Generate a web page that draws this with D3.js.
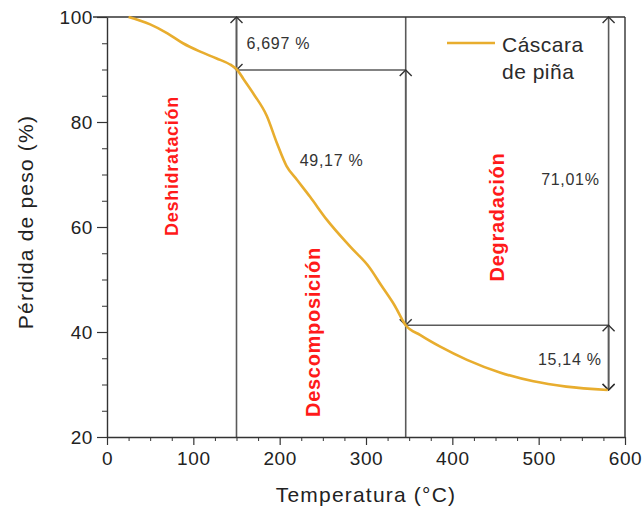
<!DOCTYPE html>
<html>
<head>
<meta charset="utf-8">
<script src="https://cdn.jsdelivr.net/npm/d3@7"></script>
<style>
  body { margin: 0; background: #fff; }
  text { font-family: "Liberation Sans", Arial, sans-serif; }
</style>
</head>
<body>
<div id="chart"></div>
<script>
// TGA curve
var temps   = [25, 50, 70, 88, 108, 127, 143, 151, 158, 170, 185, 197, 208, 220, 235, 255, 282, 304, 318, 333, 346, 363, 386, 417, 455, 494, 532, 580];
var weights = [100, 98.6, 96.9, 95.0, 93.4, 92.1, 90.9, 89.9, 88.2, 85.3, 81.2, 75.9, 71.6, 69.0, 65.8, 61.3, 56.2, 52.3, 48.8, 45.1, 41.3, 39.4, 37.2, 34.7, 32.3, 30.6, 29.6, 28.95];

var xTicks = [0, 100, 200, 300, 400, 500, 600];
var yTicks = [20, 40, 60, 80, 100];

// stage boundaries and arrows
var stageTemps = [150, 346];
var arrows = [
    {x: 150, y1: 100, y2: 89.9},
    {x: 346, y1: 89.9, y2: 41.3},
    {x: 581, y1: 100, y2: 28.95},
    {x: 581, y1: 41.3, y2: 28.95}
];
var hLines = [
    {y: 89.9, x1: 150, x2: 346},
    {y: 41.3, x1: 346, x2: 581}
];
var lossLabels = ["6,697 %", "49,17 %", "71,01%", "15,14 %"];
var stageLabels = ["Deshidratación", "Descomposición", "Degradación"];

var width = 644, height = 514;
var margin = {top: 17, right: 19, bottom: 77, left: 107};

var svg = d3.select('#chart')
    .append('svg')
    .attr('width', width)
    .attr('height', height);

var x = d3.scaleLinear().domain([0, 600]).range([margin.left, width - margin.right]);
var y = d3.scaleLinear().domain([20, 100]).range([height - margin.bottom, margin.top]);

var curveColor = '#e8ad2e';
var annColor = '#5a5a5a';

// marker for open arrowheads
svg.append('defs').append('marker')
    .attr('id', 'arr')
    .attr('markerUnits', 'userSpaceOnUse')
    .attr('viewBox', '-8 -8 10 16')
    .attr('markerWidth', 10)
    .attr('markerHeight', 16)
    .attr('refX', 0)
    .attr('refY', 0)
    .attr('orient', 'auto-start-reverse')
    .append('path')
    .attr('d', 'M-6,-6L0,0L-6,6')
    .attr('fill', 'none')
    .attr('stroke', '#333')
    .attr('stroke-width', 1.4);

// full height stage lines
svg.append('g').selectAll('line')
    .data(stageTemps)
    .enter()
    .append('line')
    .attr('x1', d => x(d)).attr('x2', d => x(d))
    .attr('y1', y(20)).attr('y2', y(100))
    .attr('stroke', annColor)
    .attr('stroke-width', 1.6);

svg.append('g').selectAll('line')
    .data(hLines)
    .enter()
    .append('line')
    .attr('x1', d => x(d.x1)).attr('x2', d => x(d.x2))
    .attr('y1', d => y(d.y)).attr('y2', d => y(d.y))
    .attr('stroke', annColor)
    .attr('stroke-width', 1.6);

svg.append('g').selectAll('line')
    .data(arrows)
    .enter()
    .append('line')
    .attr('x1', d => x(d.x)).attr('x2', d => x(d.x))
    .attr('y1', d => y(d.y1)).attr('y2', d => y(d.y2))
    .attr('stroke', annColor)
    .attr('stroke-width', 1.6)
    .attr('marker-start', 'url(#arr)')
    .attr('marker-end', 'url(#arr)');

// frame top and right
svg.append('line')
    .attr('x1', x(0) - 14).attr('x2', x(600))
    .attr('y1', y(100)).attr('y2', y(100))
    .attr('stroke', '#333').attr('stroke-width', 1.4);
svg.append('line')
    .attr('x1', x(600)).attr('x2', x(600))
    .attr('y1', y(100)).attr('y2', y(20))
    .attr('stroke', '#333').attr('stroke-width', 1.4);

// axes
var xMinor = d3.range(0, 601, 25).filter(d => d % 100 !== 0);
var yMinor = d3.range(20, 101, 5).filter(d => d % 20 !== 0);

svg.append('g')
    .attr('transform', 'translate(0,' + y(20) + ')')
    .call(d3.axisBottom(x).tickValues(xMinor).tickSize(4).tickFormat(''))
    .call(g => g.select('.domain').remove())
    .selectAll('line').attr('stroke', '#333');

svg.append('g')
    .attr('transform', 'translate(' + x(0) + ',0)')
    .call(d3.axisLeft(y).tickValues(yMinor).tickSize(5).tickFormat(''))
    .call(g => g.select('.domain').remove())
    .selectAll('line').attr('stroke', '#333');

var xAxis = svg.append('g')
    .attr('transform', 'translate(0,' + y(20) + ')')
    .call(d3.axisBottom(x).tickValues(xTicks).tickSize(8).tickSizeOuter(0).tickPadding(7));
var yAxis = svg.append('g')
    .attr('transform', 'translate(' + x(0) + ',0)')
    .call(d3.axisLeft(y).tickValues(yTicks).tickSize(10).tickSizeOuter(0).tickPadding(4));

[xAxis, yAxis].forEach(function(g) {
    g.select('.domain').attr('stroke', '#333').attr('stroke-width', 1.4);
    g.selectAll('.tick line').attr('stroke', '#333').attr('stroke-width', 1.2);
    g.selectAll('.tick text')
        .attr('font-size', 19)
        .attr('letter-spacing', 0.6)
        .attr('fill', '#222')
        .style('font-family', '"Liberation Sans", Arial, sans-serif');
});

// curve
var line = d3.line()
    .x((d, i) => x(temps[i]))
    .y(d => y(d))
    .curve(d3.curveMonotoneX);

svg.append('path')
    .datum(weights)
    .attr('d', line)
    .attr('fill', 'none')
    .attr('stroke', curveColor)
    .attr('stroke-width', 2.6)
    .attr('stroke-linejoin', 'round');

// loss percentages
var lossPos = [
    {x: 150, y: 89.9, dx: 10, dy: -21, anchor: 'start'},
    {x: 346, y: 89.9, dx: -106, dy: 96, anchor: 'start'},
    {x: 581, y: 100, dx: -9, dy: 168, anchor: 'end'},
    {x: 581, y: 41.3, dx: -7, dy: 40, anchor: 'end'}
];
svg.append('g').selectAll('text')
    .data(lossLabels)
    .enter()
    .append('text')
    .attr('x', (d, i) => x(lossPos[i].x) + lossPos[i].dx)
    .attr('y', (d, i) => y(lossPos[i].y) + lossPos[i].dy)
    .attr('text-anchor', (d, i) => lossPos[i].anchor)
    .attr('font-size', 16)
    .attr('letter-spacing', 0.7)
    .attr('fill', '#333')
    .text(d => d);

// stage names in red
var stagePos = [
    {cx: 172, cy: 166, size: 18},
    {cx: 313, cy: 332, size: 20},
    {cx: 497, cy: 217, size: 20}
];
svg.append('g').selectAll('text')
    .data(stageLabels)
    .enter()
    .append('text')
    .attr('transform', (d, i) => 'translate(' + stagePos[i].cx + ',' + stagePos[i].cy + ') rotate(-90)')
    .attr('text-anchor', 'middle')
    .attr('dy', '0.35em')
    .attr('font-size', (d, i) => stagePos[i].size)
    .attr('font-weight', 'bold')
    .attr('letter-spacing', 0.7)
    .attr('fill', '#ff1a1a')
    .text(d => d);

// legend
svg.append('line')
    .attr('x1', 447).attr('x2', 495)
    .attr('y1', 43).attr('y2', 43)
    .attr('stroke', curveColor)
    .attr('stroke-width', 2.6);
var legendText = svg.append('text')
    .attr('x', 502).attr('y', 52)
    .attr('font-size', 21)
    .attr('letter-spacing', 0.5)
    .attr('fill', '#2b2b2b');
legendText.append('tspan').attr('x', 502).text('Cáscara');
legendText.append('tspan').attr('x', 502).attr('dy', 27).text('de piña');

// axis titles
svg.append('text')
    .attr('x', (x(0) + x(600)) / 2)
    .attr('y', 502)
    .attr('text-anchor', 'middle')
    .attr('font-size', 21)
    .attr('letter-spacing', 1.2)
    .attr('fill', '#222')
    .text('Temperatura (°C)');

svg.append('text')
    .attr('transform', 'translate(33,' + 222 + ') rotate(-90)')
    .attr('text-anchor', 'middle')
    .attr('font-size', 21)
    .attr('letter-spacing', 1.2)
    .attr('fill', '#222')
    .text('Pérdida de peso (%)');
</script>
</body>
</html>
